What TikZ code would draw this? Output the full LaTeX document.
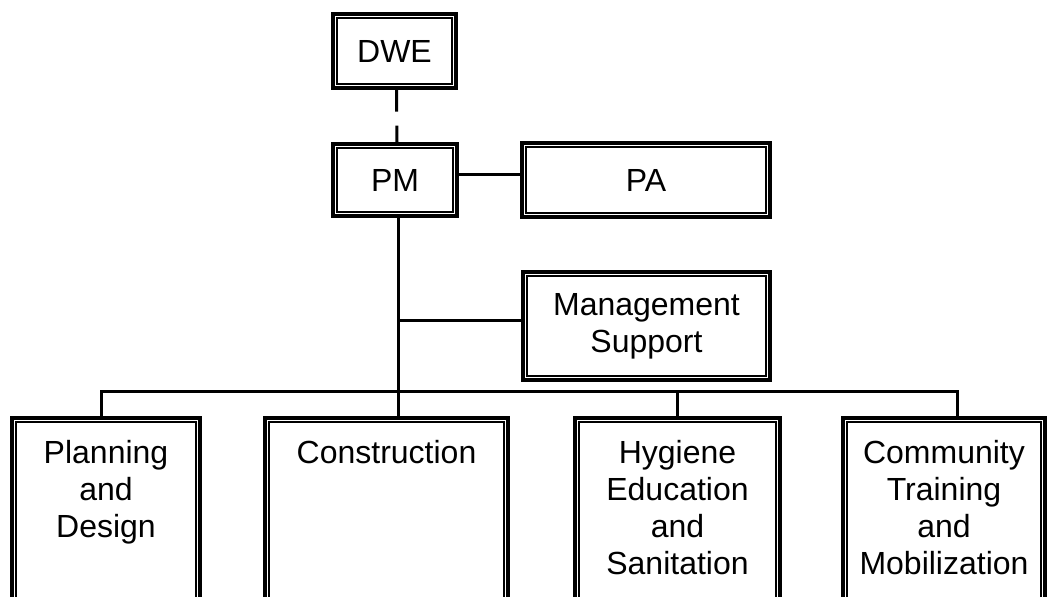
\documentclass[tikz,border=0pt]{standalone}
\usepackage{fontspec}
\setmainfont{Liberation Sans}
\begin{document}
\begin{tikzpicture}[x=1pt,y=-1pt,
  box/.style={rectangle, draw, line width=3.4pt, inner sep=0pt, align=center,
    font=\fontsize{32}{37}\selectfont},
  lbl/.style={inner sep=0pt, align=center, anchor=north, font=\fontsize{32}{37}\selectfont},
  conn/.style={line width=3pt}]
\useasboundingbox (0,0) rectangle (1053,597);
\clip (0,0) rectangle (1053,597);
% top boxes
\node[box, minimum width=123pt, minimum height=74pt] (dwe) at (394.5,51) {DWE};
\node[box, minimum width=124pt, minimum height=72pt] (pm) at (395,180) {PM};
\node[box, minimum width=248pt, minimum height=74pt] (pa) at (646,180) {PA};
\node[box, minimum width=247pt, minimum height=108pt] (mgmt) at (646.5,326) {Management\\Support};
% bottom boxes (cut by the page edge)
\node[box, minimum width=188pt, minimum height=192pt] (plan) at (106,514) {};
\node[box, minimum width=243pt, minimum height=192pt] (cons) at (386.5,514) {};
\node[box, minimum width=205pt, minimum height=192pt] (hyg) at (677.5,514) {};
\node[box, minimum width=202pt, minimum height=192pt] (comm) at (944,514) {};
% inner lines of the double borders
\foreach \n in {dwe,pm,pa,mgmt,plan,cons,hyg,comm}{
  \draw[line width=1.6pt] ([shift={(5.5pt,-5.5pt)}]\n.north west) rectangle ([shift={(-5.5pt,5.5pt)}]\n.south east);
}
% labels of the bottom boxes
\node[lbl] (planT) at ([yshift=-24pt]plan.north) {Planning\\and\\Design};
\node[lbl] (consT) at ([yshift=-24pt]cons.north) {Construction};
\node[lbl] (hygT) at ([yshift=-24pt]hyg.north) {Hygiene\\Education\\and\\Sanitation};
\node[lbl] (commT) at ([yshift=-24pt]comm.north) {Community\\Training\\and\\Mobilization};
% connectors
\draw[conn, dash pattern=on 22pt off 14pt] ([xshift=2pt]dwe.south) -- ([xshift=2pt]pm.north);
\draw[conn] ([yshift=6pt]pm.east) -- ([yshift=6pt]pa.west);
\draw[conn] ([xshift=3pt]pm.south) -- ([xshift=3pt]pm.south |- cons.north);
\draw[conn] ([yshift=6pt]mgmt.west) -- ([xshift=3pt,yshift=6pt]pm.south |- mgmt.west);
\draw[conn] ([xshift=-5pt]plan.north) -- ++(0,-25) -| ([xshift=13pt]comm.north);
\draw[conn] (hyg.north) -- ++(0,-25);
\end{tikzpicture}
\end{document}
